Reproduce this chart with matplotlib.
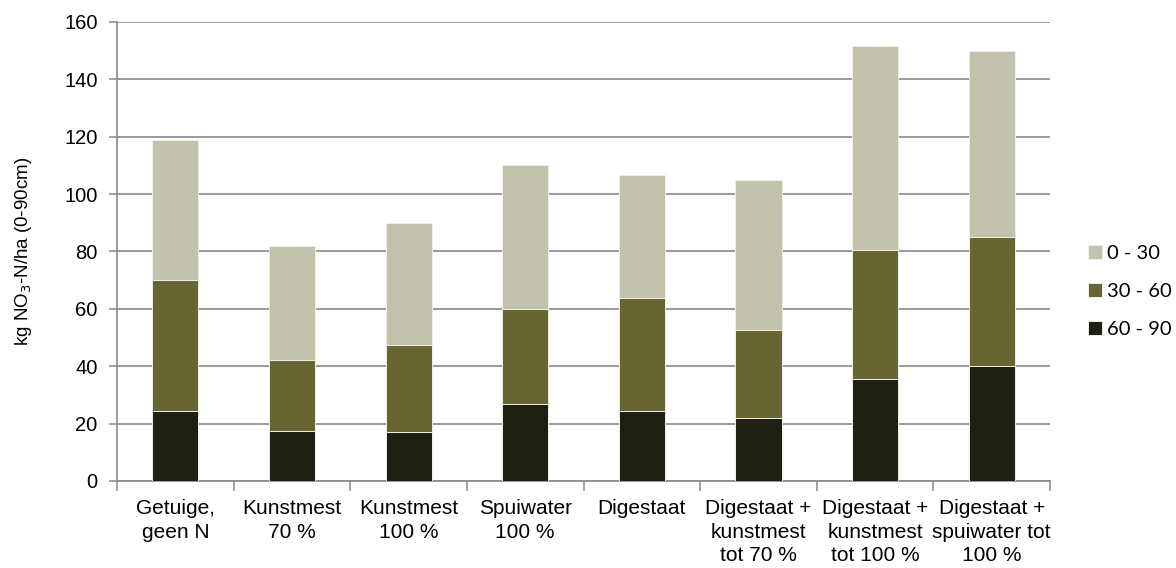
import matplotlib
matplotlib.use("Agg")
import matplotlib.pyplot as plt
import numpy as np

# Treatments (x axis)
categories = [
    "Getuige,\ngeen N",
    "Kunstmest\n70 %",
    "Kunstmest\n100 %",
    "Spuiwater\n100 %",
    "Digestaat",
    "Digestaat +\nkunstmest\ntot 70 %",
    "Digestaat +\nkunstmest\ntot 100 %",
    "Digestaat +\nspuiwater tot\n100 %",
]

# Nitrate-N per soil layer (kg NO3-N/ha)
layer_60_90 = [24.5, 17.5, 17.2, 27.0, 24.5, 22.1, 35.7, 40.1]
layer_30_60 = [45.5, 24.5, 30.2, 33.0, 39.3, 30.6, 44.8, 45.0]
layer_0_30 = [49.0, 40.0, 42.6, 50.0, 43.0, 52.2, 71.1, 64.7]

series_labels = ["60 - 90", "30 - 60", "0 - 30"]
colors = ["#201f14", "#676633", "#c3c3ad"]

yticks = [0, 20, 40, 60, 80, 100, 120, 140, 160]

plt.rcParams["font.family"] = ["Liberation Sans", "DejaVu Sans"]

fig = plt.figure(figsize=(11.76, 5.68), dpi=100)
ax = fig.add_axes([0.0995, 0.1532, 0.7934, 0.8081])

x = np.arange(len(categories))
bottom = np.zeros(len(categories))
handles = []
for vals, lab, col in zip([layer_60_90, layer_30_60, layer_0_30], series_labels, colors):
    h = ax.bar(x, vals, width=0.395, bottom=bottom, color=col, label=lab,
               edgecolor="#eeeee6", linewidth=0.7, zorder=3)
    handles.append(h)
    bottom += np.array(vals)

ax.set_xlim(-0.5, len(categories) - 0.5)
ax.set_ylim(0, 160)
ax.set_yticks(yticks)
ax.tick_params(axis="y", labelsize=14.5, length=6, width=1.1, color="#898989", pad=8)

ax.set_xticks(x)
ax.set_xticklabels(categories, fontsize=15, linespacing=1.3)
ax.tick_params(axis="x", which="major", length=0, pad=13)
ax.set_xticks(np.arange(-0.5, len(categories), 1.0), minor=True)
ax.tick_params(axis="x", which="minor", length=7, width=1.1, color="#898989")

ax.yaxis.grid(True, color="#898989", linewidth=1.2, zorder=0)
ax.set_axisbelow(True)
for s in ["top", "right"]:
    ax.spines[s].set_visible(False)
for s in ["left", "bottom"]:
    ax.spines[s].set_color("#898989")
    ax.spines[s].set_linewidth(1.2)

ax.set_ylabel(r"kg NO$_3$-N/ha (0-90cm)", fontsize=13.5, labelpad=22)

leg = ax.legend(handles[::-1], series_labels[::-1], loc="center left",
                bbox_to_anchor=(1.021, 0.413), frameon=False,
                handlelength=0.72, handleheight=0.72, handletextpad=0.25,
                labelspacing=1.02, prop={"family": ["Lato", "DejaVu Sans"], "size": 14.5})

fig.savefig("out.png", dpi=100)
